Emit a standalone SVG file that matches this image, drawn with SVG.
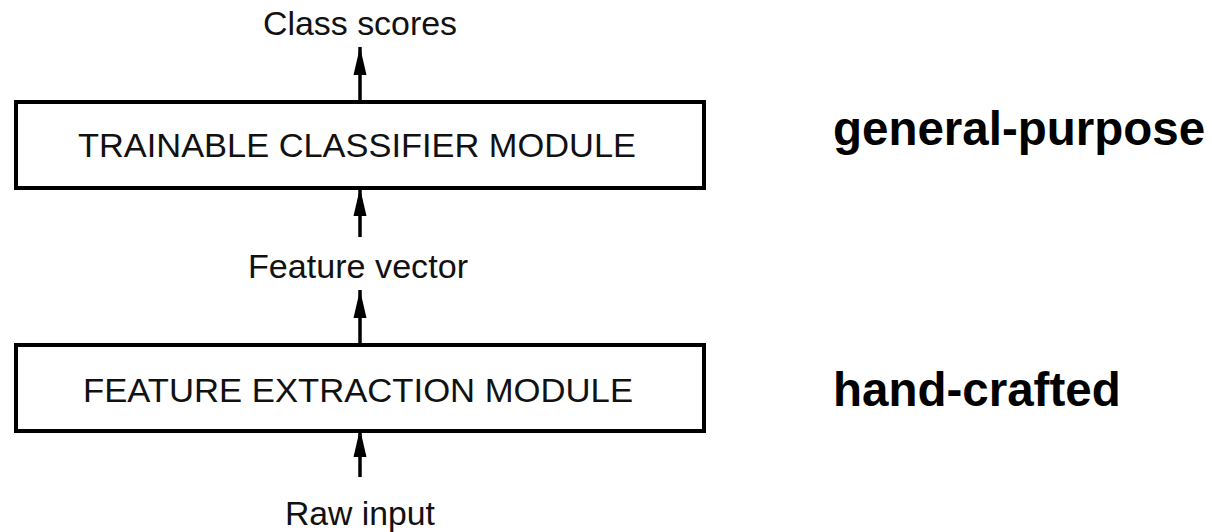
<svg xmlns="http://www.w3.org/2000/svg" width="1212" height="532" viewBox="0 0 1212 532">
  <style>
    .box { fill: #ffffff; stroke: #000000; stroke-width: 4; }
    .lbl { font-family: "Liberation Sans", Arial, sans-serif; font-size: 33px; fill: #111111; text-anchor: middle; }
    .mod { font-family: "Liberation Sans", Arial, sans-serif; font-size: 34px; fill: #111111; text-anchor: middle; }
    .side { font-family: "Liberation Sans", Arial, sans-serif; font-size: 47.5px; font-weight: bold; fill: #000000; }
    .wire { stroke: #000000; stroke-width: 3.5; fill: none; marker-end: url(#head); }
  </style>
  <defs>
    <!-- narrow filled arrowhead, tip placed at the line end -->
    <marker id="head" viewBox="0 0 28 14" refX="28" refY="7" markerWidth="28" markerHeight="14" markerUnits="userSpaceOnUse" orient="auto">
      <path d="M0,0.5 L28,7 L0,13.5 Z" fill="#000000"/>
    </marker>
  </defs>
  <rect width="1212" height="532" fill="#ffffff"/>

  <!-- connectors -->
  <g id="connectors">
    <line class="wire" x1="360" y1="102" x2="360" y2="47"/>
    <line class="wire" x1="360" y1="237" x2="360" y2="188"/>
    <line class="wire" x1="360" y1="345" x2="360" y2="290"/>
    <line class="wire" x1="360" y1="477" x2="360" y2="429"/>
  </g>

  <g id="class-scores">
    <text class="lbl" x="360" y="35" textLength="194" lengthAdjust="spacingAndGlyphs">Class scores</text>
  </g>

  <g id="classifier">
    <rect class="box" x="16" y="102" width="688" height="86"/>
    <text class="mod" x="357" y="157" textLength="558" lengthAdjust="spacingAndGlyphs">TRAINABLE CLASSIFIER MODULE</text>
  </g>

  <g id="feature-vector">
    <text class="lbl" x="358" y="278" textLength="220" lengthAdjust="spacingAndGlyphs">Feature vector</text>
  </g>

  <g id="extractor">
    <rect class="box" x="16" y="345" width="688" height="86"/>
    <text class="mod" x="358" y="402" textLength="550" lengthAdjust="spacingAndGlyphs">FEATURE EXTRACTION MODULE</text>
  </g>

  <g id="raw-input">
    <text class="lbl" x="360" y="525" textLength="150" lengthAdjust="spacingAndGlyphs">Raw input</text>
  </g>

  <g id="general-purpose">
    <text class="side" x="833" y="145">general-purpose</text>
  </g>

  <g id="hand-crafted">
    <text class="side" x="833" y="406">hand-crafted</text>
  </g>
</svg>
